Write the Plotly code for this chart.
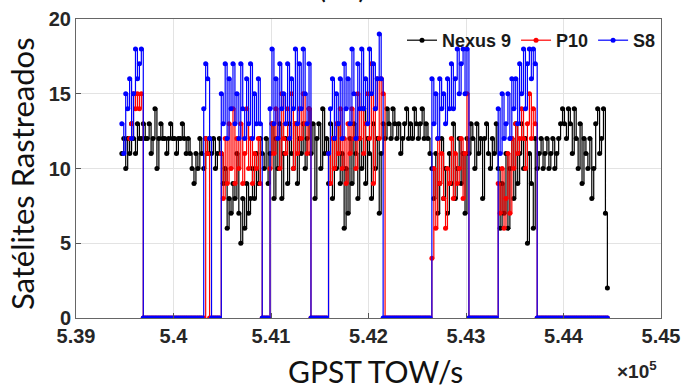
import plotly.graph_objects as go

# ---------------- data ----------------
step = 20
nexus9_start = 539470
s8_start = 539470
p10_start = 539550

nexus9 = [
    11, 12, 10, 12, 11, 13, 12, 11, 13, 12,
    12, 13, 12, 12, 13, 11, 12, 14, 10, 12,
    13, 12, 12, 11, 12, 13, 12, 12, 11, 12,
    12, 13, 12, 11, 12, 11, 10, 9, 11, 10,
    12, 11, 10, 12, 11, 12, 11, 12, 10, 11,
    12, 11, 9, 10, 6, 8, 7, 9, 8, 11,
    7, 5, 8, 6, 9, 7, 8, 10, 8, 11,
    9, 12, 11, 10, 12, 9, 11, 13, 8, 12,
    10, 13, 8, 11, 12, 9, 13, 11, 10, 13,
    9, 12, 11, 13, 10, 12, 14, 11, 13, 8,
    12, 13, 10, 14, 11, 12, 9, 13, 8, 12,
    10, 13, 9, 11, 6, 10, 7, 12, 9, 13,
    11, 8, 12, 10, 14, 9, 12, 11, 8, 13,
    10, 12, 7, 11, 13, 12, 14, 13, 12, 14,
    13, 12, 13, 11, 12, 13, 14, 12, 13, 12,
    14, 13, 12, 13, 14, 12, 13, 12, 11, 10,
    8, 11, 7, 9, 12, 8, 10, 7, 11, 9,
    13, 8, 10, 12, 9, 11, 7, 12, 11, 13,
    12, 10, 13, 11, 12, 8, 12, 13, 11, 10,
    12, 11, 13, 10, 6, 9, 7, 11, 6, 10,
    12, 8, 13, 9, 11, 13, 10, 12, 5, 11,
    9, 6, 12, 10, 11, 12, 10, 11, 12, 10,
    11, 12, 10, 11, 12, 13, 14, 13, 12, 14,
    13, 11, 14, 12, 10, 13, 9, 12, 11, 10,
    12, 8, 10, 13, 14, 11, 12, 14, 7, 2,
]

p10 = [
    12, 13, 15, 14, 15, 14, 15,
    0, 0, 0, 0, 0, 0, 0, 0, 0, 0, 0, 0, 0, 0, 0, 0,
    0, 0, 0, 0, 0, 0, 0, 0, 0, 0, 0, 0, 0, 0, 0, 0,
    12, 11,
    0, 0, 0, 0, 0, 0,
    11, 8, 12, 9, 13, 10, 14, 9, 12, 10,
    13, 9, 11, 14, 10, 12, 9, 11, 10, 12, 9,
    0, 0, 0, 0,
    10, 13, 11, 14, 12, 10, 15, 12, 11, 14,
    12, 15, 10, 13, 11, 14, 12, 15, 13, 11, 14,
    0, 0, 0, 0, 0, 0, 0, 0, 0,
    11, 9, 12, 10, 13, 11, 14, 10, 12, 9,
    13, 11, 14, 12, 10, 15, 12, 14, 11, 13,
    15, 12, 17, 9, 14, 16, 12, 16,
    15,
    0, 0, 0, 0, 0, 0, 0, 0, 0, 0, 0, 0,
    0, 0, 0, 0, 0, 0, 0, 0, 0, 0, 0, 0,
    4, 10, 6, 12, 9, 11, 8, 6, 10, 9,
    12, 8, 11, 9, 10, 12, 8, 11, 15,
    0, 0, 0, 0, 0, 0, 0, 0, 0, 0, 0, 0, 0, 0, 0,
    9, 7, 10, 6, 8, 11, 7, 12, 10, 13,
    11, 12, 14, 12, 10, 13, 15, 12, 14, 13,
    0, 0, 0, 0, 0, 0, 0, 0, 0, 0, 0, 0, 0, 0, 0, 0, 0, 0, 0,
    0, 0, 0, 0, 0, 0, 0, 0, 0, 0, 0, 0, 0, 0, 0, 0, 0, 0,
]

s8 = [
    13, 11, 15, 14, 16, 12, 15, 18, 16, 17,
    18,
    0, 0, 0, 0, 0, 0, 0, 0, 0, 0, 0, 0, 0, 0, 0, 0,
    0, 0, 0, 0, 0, 0, 0, 0, 0, 0, 0, 0, 0, 0, 0,
    14, 17, 16, 12,
    0, 0, 0, 0, 0,
    15, 13, 17, 12, 16, 14, 17, 13, 15, 12,
    17, 14, 12, 16, 13, 17, 12, 15, 13, 16,
    13,
    0, 0, 0, 0,
    14, 18, 13, 16, 12, 17, 14, 15, 13, 17,
    12, 16, 14, 18, 13, 17, 14, 18, 15, 13, 17,
    0, 0, 0, 0, 0, 0, 0, 0, 0,
    11, 14, 16, 12, 15, 13, 16, 12, 17, 14,
    16, 13, 18, 15, 12, 17, 14, 18, 14, 16,
    13, 18, 15, 17, 14, 16, 19, 16,
    0, 0, 0, 0, 0, 0, 0, 0, 0, 0, 0, 0, 0,
    0, 0, 0, 0, 0, 0, 0, 0, 0, 0, 0, 0,
    16, 13, 15, 12, 16, 14, 15, 13, 16, 14,
    17, 14, 16, 18, 15, 17, 18, 15, 18,
    0, 0, 0, 0, 0, 0, 0, 0, 0, 0, 0, 0, 0, 0, 0,
    14, 11, 15, 12, 13, 15, 12, 16, 14, 16,
    13, 17, 15, 18, 14, 17, 18, 16, 18, 17,
    0, 0, 0, 0, 0, 0, 0, 0, 0, 0, 0, 0, 0, 0, 0, 0, 0, 0, 0,
    0, 0, 0, 0, 0, 0, 0, 0, 0, 0, 0, 0, 0, 0, 0, 0, 0, 0,
]

series_names = ["Nexus 9", "P10", "S8"]
x_tick_vals = [539000, 540000, 541000, 542000, 543000, 544000, 545000]
x_tick_labels = ["5.39", "5.4", "5.41", "5.42", "5.43", "5.44", "5.45"]
y_tick_vals = [0, 5, 10, 15, 20]


def time_grid(start, n):
    return [start + step * k for k in range(n)]


fig = go.Figure()
for name, start, vals, col in [
    (series_names[0], nexus9_start, nexus9, "#000000"),
    (series_names[1], p10_start, p10, "#ff0000"),
    (series_names[2], s8_start, s8, "#0000ff"),
]:
    fig.add_trace(go.Scatter(
        x=time_grid(start, len(vals)), y=vals, name=name,
        mode="lines+markers",
        line=dict(color=col, width=1.2, shape="hv"),
        marker=dict(color=col, size=5, symbol="circle"),
    ))

tick_font = dict(family="Liberation Sans, Arial, sans-serif", size=20,
                 color="#262626", weight="bold")
title_family = "Lato, Open Sans, sans-serif"

fig.update_layout(
    template="none",
    width=681, height=385,
    margin=dict(l=76, r=20, t=19, b=67, autoexpand=False),
    paper_bgcolor="white", plot_bgcolor="white",
    showlegend=True,
    legend=dict(
        orientation="h", x=1.0, xanchor="right", y=0.99, yanchor="top",
        bgcolor="rgba(255,255,255,0)", borderwidth=0,
        font=dict(family="Liberation Sans, Arial, sans-serif", size=18,
                  color="#1a1a1a", weight="bold"),
        itemwidth=30, tracegroupgap=0,
    ),
    xaxis=dict(
        automargin=False,
        range=[539000, 545000], tickmode="array",
        tickvals=x_tick_vals, ticktext=x_tick_labels,
        tickfont=tick_font, ticks="inside", ticklen=5, tickcolor="#555",
        showgrid=True, gridcolor="#e3e3e3", gridwidth=1,
        showline=True, linecolor="#666", linewidth=1, mirror=True,
        zeroline=False,
    ),
    yaxis=dict(
        automargin=False,
        range=[0, 20], tickmode="array", tickvals=y_tick_vals,
        tickfont=tick_font, ticks="inside", ticklen=5, tickcolor="#555",
        showgrid=True, gridcolor="#e3e3e3", gridwidth=1,
        showline=True, linecolor="#666", linewidth=1, mirror=True,
        zeroline=False,
    ),
    annotations=[
        dict(text="GPST TOW/s", xref="paper", yref="paper",
             x=0.512, y=-0.178, xanchor="center", yanchor="middle", showarrow=False,
             font=dict(family=title_family, size=30, color="#111")),
        dict(text="Satélites Rastreados", xref="paper", yref="paper",
             x=-0.091, y=0.484, xanchor="center", yanchor="middle", showarrow=False,
             textangle=-90,
             font=dict(family=title_family, size=31, color="#111")),
        dict(text="×10<sup>5</sup>", xref="paper", yref="paper",
             x=0.997, y=-0.222, xanchor="right", yanchor="bottom", showarrow=False,
             font=dict(family="Liberation Sans, Arial, sans-serif", size=19,
                       color="#262626", weight="bold")),
        dict(text="( b )", xref="paper", yref="paper",
             x=0.455, y=1.043, xanchor="center", yanchor="bottom", showarrow=False,
             font=dict(family=title_family, size=30, color="#111")),
    ],
)

fig.write_html("out.html", config={"displayModeBar": False},
               post_script="document.body.style.margin='0';document.body.style.overflow='hidden';")
